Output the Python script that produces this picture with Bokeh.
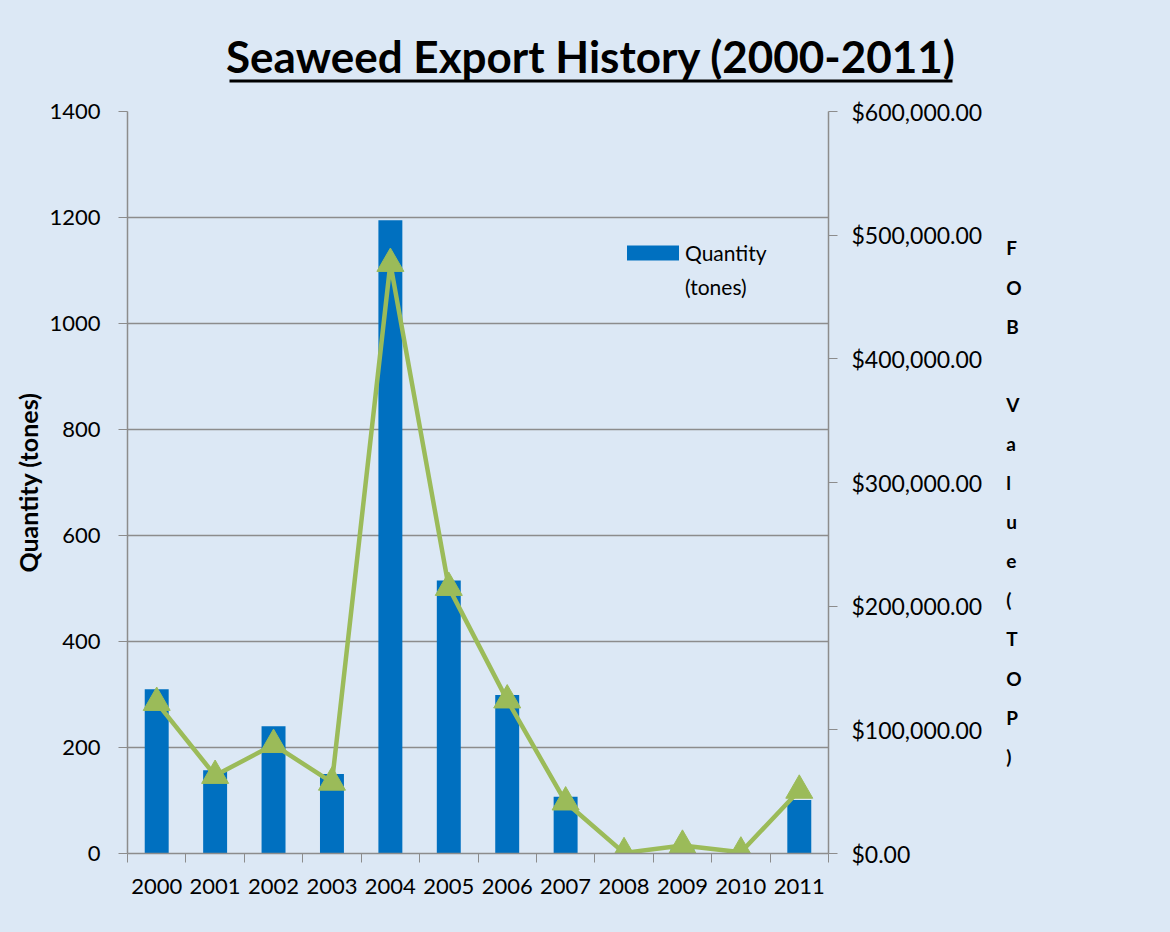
from bokeh.plotting import figure
from bokeh.models import (Range1d, LinearAxis, FixedTicker, NumeralTickFormatter,
                          Legend, LegendItem, ColumnDataSource)
from bokeh.layouts import column
from bokeh.core.properties import value
from bokeh.embed import file_html
from bokeh.resources import INLINE

# ---- data ----
years = [2000, 2001, 2002, 2003, 2004, 2005, 2006, 2007, 2008, 2009, 2010, 2011]
year_labels = ["2000", "2001", "2002", "2003", "2004", "2005", "2006", "2007",
               "2008", "2009", "2010", "2011"]
quantity_tones = [310, 157, 240, 150, 1195, 515, 299, 107, 0, 8, 0, 101]
fob_value_top = [122000, 63000, 88000, 57500, 477000, 215000, 124000, 41500,
                 500, 6500, 1000, 51000]
left_ticks = [0, 200, 400, 600, 800, 1000, 1200, 1400]
right_ticks = [0, 100000, 200000, 300000, 400000, 500000, 600000]
title_text = "Seaweed Export History (2000-2011)"
left_axis_title = "Quantity (tones)"
right_axis_title_lines = ["", "F", "O", "B", "", "V", "a", "l", "u", "e",
                          "(", "T", "O", "P", ")"]
legend_line1 = "Quantity"
legend_line2 = "(tones)"

BG = "#dce8f5"
BAR = "#0070c0"
LINE = "#9bbb59"
GRID = "#8c8c8c"
FONT = "Lato"

W, H = 1170, 932
TOP_H = 95

# ---- title strip ----
t = figure(width=W, height=TOP_H, output_backend="svg", toolbar_location=None,
           x_range=Range1d(0, W), y_range=Range1d(0, TOP_H),
           min_border=0, x_axis_location=None, y_axis_location=None)
t.frame_align = False
t.background_fill_color = BG
t.border_fill_color = BG
t.outline_line_color = None
t.grid.visible = False
t.text(x=[590.5], y=[40], text=[title_text], text_font=value(FONT),
       text_font_style="bold", text_font_size="44px", text_align="center",
       text_baseline="middle", text_color="black")
t.segment(x0=[229], y0=[14.5], x1=[952], y1=[14.5], line_color="black",
          line_width=3)

# ---- main chart ----
p = figure(width=W, height=H - TOP_H, output_backend="svg", toolbar_location=None,
           x_range=Range1d(years[0] - 0.5, years[-1] + 0.5),
           y_range=Range1d(0, 1400),
           min_border_left=127, min_border_right=W - 828,
           min_border_top=111 - TOP_H, min_border_bottom=H - 853,
           x_axis_location=None, y_axis_location=None)
p.frame_align = False
p.background_fill_color = BG
p.border_fill_color = BG
p.outline_line_color = None

p.extra_y_ranges = {"fob": Range1d(0, 600000)}

# left axis
ly = LinearAxis(ticker=FixedTicker(ticks=left_ticks), axis_label=left_axis_title)
ly.axis_label_text_font = FONT
ly.axis_label_text_font_style = "bold"
ly.axis_label_text_font_size = "25px"
ly.axis_label_text_color = "black"
ly.axis_label_standoff = 3
ly.major_label_text_font = FONT
ly.major_label_text_font_size = "22px"
ly.major_label_text_color = "black"
ly.major_label_standoff = 18
ly.major_tick_in = 0
ly.major_tick_out = 9
ly.minor_tick_out = 0
ly.minor_tick_in = 0
ly.axis_line_color = GRID
ly.major_tick_line_color = GRID
ly.axis_line_width = 1.5
p.add_layout(ly, "left")

# right axis with stacked title
ry = LinearAxis(y_range_name="fob", ticker=FixedTicker(ticks=right_ticks),
                formatter=NumeralTickFormatter(format="$0,0.00"),
                axis_label="\n".join(right_axis_title_lines))
ry.axis_label_orientation = "horizontal"
ry.axis_label_text_font = FONT
ry.axis_label_text_font_style = "bold"
ry.axis_label_text_font_size = "19px"
ry.axis_label_text_color = "black"
ry.axis_label_text_line_height = 1.70
ry.axis_label_standoff = 21
ry.major_label_text_font = FONT
ry.major_label_text_font_size = "23px"
ry.major_label_text_color = "black"
ry.major_label_standoff = 14
ry.major_tick_in = 0
ry.major_tick_out = 9
ry.minor_tick_out = 0
ry.minor_tick_in = 0
ry.axis_line_color = GRID
ry.major_tick_line_color = GRID
ry.axis_line_width = 1.5
p.add_layout(ry, "right")

# bottom axis: ticks between categories
boundaries = [y - 0.5 for y in years] + [years[-1] + 0.5]
bx = LinearAxis(ticker=FixedTicker(ticks=boundaries))
bx.major_label_overrides = {b: "" for b in boundaries}
bx.major_label_text_font_size = "1px"
bx.major_label_standoff = 0
bx.major_tick_in = 0
bx.major_tick_out = 9
bx.minor_tick_in = 0
bx.minor_tick_out = 0
bx.axis_line_color = GRID
bx.major_tick_line_color = GRID
bx.axis_line_width = 1.5
p.add_layout(bx, "below")

# bottom axis: year labels
lx = LinearAxis(ticker=FixedTicker(ticks=years))
lx.major_label_overrides = {y: s for y, s in zip(years, year_labels)}
lx.major_label_text_font = FONT
lx.major_label_text_font_size = "22px"
lx.major_label_text_color = "black"
lx.major_label_standoff = 16
lx.major_tick_in = 0
lx.major_tick_out = 0
lx.minor_tick_in = 0
lx.minor_tick_out = 0
lx.axis_line_color = None
p.add_layout(lx, "below")

p.xgrid.visible = False
p.ygrid.ticker = FixedTicker(ticks=left_ticks)
p.ygrid.grid_line_color = GRID
p.ygrid.grid_line_width = 1.5

src = ColumnDataSource(dict(year=years, qty=quantity_tones, fob=fob_value_top))

bars = p.vbar(x="year", top="qty", bottom=0, width=0.41, source=src,
              fill_color=BAR, line_color=None)
p.line(x="year", y="fob", source=src, y_range_name="fob",
       line_color=LINE, line_width=4.5)
p.scatter(x="year", y="fob", source=src, y_range_name="fob", marker="triangle",
          size=27, fill_color=LINE, line_color=LINE)

# helper renderer (no data) so the legend's second text line has no swatch
blank = p.vbar(x=[], top=[], width=0.41, fill_alpha=0, line_alpha=0)

legend = Legend(items=[LegendItem(label=legend_line1, renderers=[bars]),
                       LegendItem(label=legend_line2, renderers=[blank])],
                location=(493, 554), orientation="vertical")
legend.background_fill_alpha = 0
legend.border_line_color = None
legend.padding = 0
legend.margin = 0
legend.spacing = 9
legend.label_text_font = FONT
legend.label_text_font_size = "21px"
legend.label_text_color = "black"
legend.glyph_width = 65
legend.glyph_height = 19
legend.label_standoff = 0
p.add_layout(legend, "center")

layout = column(t, p, spacing=0, styles={"background-color": BG})
open("out.html", "w").write(file_html(layout, INLINE))
